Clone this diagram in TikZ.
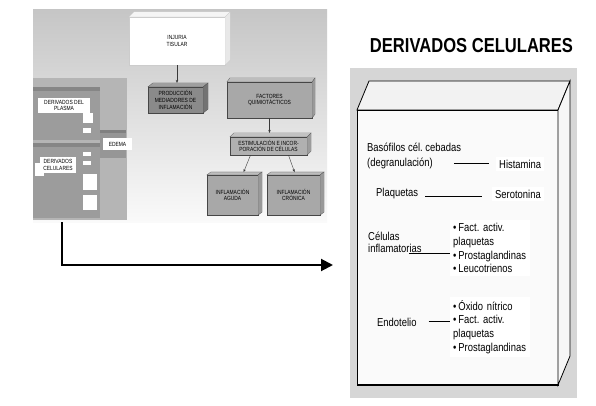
\documentclass[tikz,border=0pt]{standalone}
\usepackage{fontspec}
\setmainfont{Liberation Sans}[FakeStretch=0.82]
\usetikzlibrary{arrows.meta}
\frenchspacing
\tikzset{
	caja/.style={draw=gray!55!black, very thin, inner sep=1pt, align=center, font=\fontsize{6}{6.8}\selectfont},
	etiqueta/.style={fill=white, inner sep=1pt, align=center, font=\fontsize{6}{6.8}\selectfont},
	texto/.style={inner sep=0pt, anchor=base west, font=\fontsize{11.5}{14}\selectfont},
	recuadro/.style={fill=white, inner xsep=3pt, inner ysep=3pt, anchor=base west, font=\fontsize{11.5}{14}\selectfont},
	lista/.style={fill=white, inner sep=3pt, anchor=north west, align=left, text width=74pt, font=\fontsize{11.5}{13.8}\selectfont},
	flechita/.style={gray!45!black, thin, -{Stealth[length=3pt,width=2.5pt]}},
	raya/.style={line width=0.9pt},
}
% tapa y lado de una caja en relieve
\newcommand{\lados}[6][draw=gray!55!black, very thin]{%
	\filldraw[fill=#5, #1] (#2.north west) -- ++(#3,-#4) -- ([shift={(#3,-#4)}]#2.north east) -- (#2.north east) -- cycle;
	\filldraw[fill=#6, #1] (#2.north east) -- ++(#3,-#4) -- ([shift={(#3,-#4)}]#2.south east) -- (#2.south east) -- cycle;
}
\begin{document}
\begin{tikzpicture}[x=1pt, y=-1pt]
	\useasboundingbox (0,0) rectangle (596,406);
	\fill[white] (0,0) rectangle (596,406);

	% esquema de la izquierda
	\shade[top color=gray!45, bottom color=gray!4] (33,10) rectangle (327,222);
	\fill[gray!58] (33,78) rectangle (127,220);
	\fill[gray!78] (33,87) rectangle (100,140);
	\fill[gray!95] (33,87) rectangle (100,91);
	\fill[gray!78] (33,143) rectangle (100,218);
	\fill[gray!95] (33,143) rectangle (100,147);
	\fill[gray!82] (100,130) rectangle (126,158);
	\fill[gray!100] (100,130) rectangle (126,133);
	\fill[white] (83,113) rectangle (93,123);
	\fill[white] (83,128) rectangle (91,133);
	\fill[white] (83,152) rectangle (91,156);
	\fill[white] (83,161) rectangle (91,165);
	\fill[white] (83,174) rectangle (97,190);
	\fill[white] (83,195) rectangle (97,210);
	\fill[white] (35,163) rectangle (44,176);
	\node[etiqueta, minimum width=52pt, minimum height=15pt] (plasma) at (64,105.5) {DERIVADOS DEL\\PLASMA};
	\node[etiqueta, minimum width=29pt, minimum height=12pt] (edema) at (117.5,144) {EDEMA};
	\node[etiqueta, minimum width=36pt, minimum height=16pt] (celulares) at (58,165) {DERIVADOS\\CELULARES};

	\node[caja, fill=white, draw=gray!40, minimum width=96pt, minimum height=48pt] (injuria) at (177,41) {INJURIA\\TISULAR};
	\lados[draw=gray!40, very thin]{injuria}{5}{5}{gray!8}{gray!18}
	\node[caja, fill=gray!92, minimum width=55pt, minimum height=26pt] (produccion) at (175.5,100) {PRODUCCIÓN\\MEDIADORES DE\\INFLAMACIÓN};
	\lados{produccion}{5}{4}{gray!75}{gray!110}
	\node[caja, fill=gray!68, minimum width=85pt, minimum height=36pt] (factores) at (269.5,100) {FACTORES\\QUIMIOTÁCTICOS};
	\lados{factores}{3}{4}{gray!52}{gray!80}
	\node[caja, fill=gray!62, minimum width=77pt, minimum height=18pt] (estimulacion) at (268.5,146) {ESTIMULACIÓN E INCOR-\\PORACIÓN DE CÉLULAS};
	\lados{estimulacion}{4}{4}{gray!48}{gray!78}
	\node[caja, fill=gray!68, minimum width=51pt, minimum height=40pt] (aguda) at (232.5,195) {INFLAMACIÓN\\AGUDA};
	\lados{aguda}{4}{3}{gray!52}{gray!80}
	\node[caja, fill=gray!68, minimum width=53pt, minimum height=40pt] (cronica) at (293.5,195) {INFLAMACIÓN\\CRÓNICA};
	\lados{cronica}{4}{3}{gray!52}{gray!80}

	\draw[flechita, shorten >=4pt] (injuria.south) -- (injuria.south |- produccion.north);
	\draw[flechita, shorten >=4pt] (factores.south) -- (factores.south |- estimulacion.north);
	\draw[flechita, shorten >=3pt] ([xshift=-18pt]estimulacion.south) -- ([xshift=10pt]aguda.north);
	\draw[flechita, shorten >=3pt] ([xshift=20pt]estimulacion.south) -- ([xshift=2pt]cronica.north);

	% flecha hacia el recuadro
	\coordinate (inicio) at (62,222);
	\coordinate (fin) at (333,265);
	\draw[line width=2pt, -{Triangle[length=12pt, width=12pt]}] (inicio) |- (fin);

	% derivados celulares
	\node[anchor=base, inner sep=0pt, font=\bfseries\fontsize{20.2}{21}\selectfont] (titulo) at (471.5,53) {DERIVADOS CELULARES};
	\fill[gray!32] (350,68) rectangle (577,398);
	\node[draw=black, line width=0.8pt, fill=gray!4, inner sep=0pt, outer sep=0pt, anchor=north west, minimum width=201pt, minimum height=275pt] (recuadro) at (357,110) {};
	\lados[draw=black, line width=0.8pt]{recuadro}{12}{29}{gray!10}{gray!7}
	\draw[line width=1.6pt] (recuadro.south west) -- (recuadro.south east);

	\node[texto] (basofilos) at (367,152) {Basófilos cél. cebadas};
	\node[texto] (degranulacion) at (367,166) {(degranulación)};
	\node[recuadro] (histamina) at (496,168) {Histamina};
	\draw[raya, shorten <=21pt, shorten >=7pt] (degranulacion.east) -- (degranulacion.east -| histamina.west);

	\node[texto] (plaquetas) at (376,196) {Plaquetas};
	\node[recuadro] (serotonina) at (492,198) {Serotonina};
	\draw[raya, shorten <=7pt, shorten >=10pt] (plaquetas.base east) -- (plaquetas.base east -| serotonina.west);

	\node[texto] (celulas) at (368,240) {Células};
	\node[texto] (inflamatorias) at (368,252) {inflamatorias};
	\node[lista] (lista1) at (450,220) {•\,Fact. activ.\\plaquetas\\•\,Prostaglandinas\\•\,Leucotrienos};
	\draw[raya] ([xshift=-13pt, yshift=-1pt]inflamatorias.base east) -- ([yshift=-1pt]inflamatorias.base east -| lista1.west);

	\node[texto] (endotelio) at (377,326) {Endotelio};
	\node[lista] (lista2) at (450,297) {•\,Óxido nítrico\\•\,Fact. activ.\\plaquetas\\•\,Prostaglandinas};
	\draw[raya, shorten <=12pt] (endotelio.east) -- (endotelio.east -| lista2.west);
\end{tikzpicture}
\end{document}
